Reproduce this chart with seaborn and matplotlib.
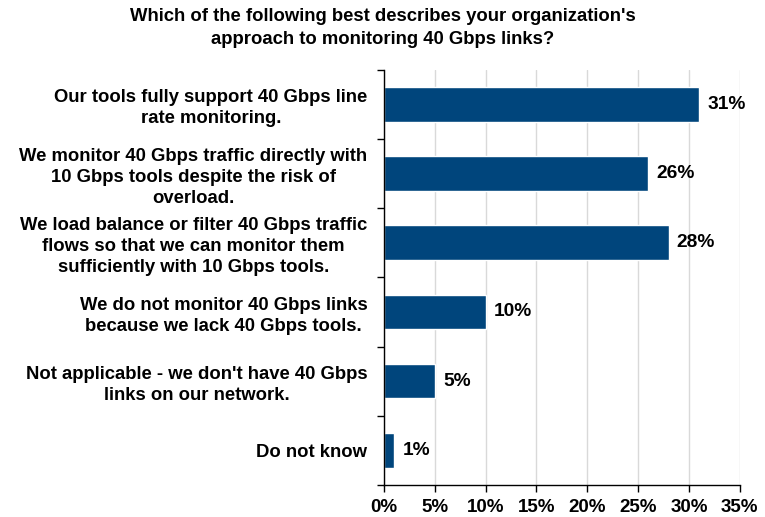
import matplotlib
matplotlib.use("Agg")
import matplotlib.pyplot as plt
import matplotlib.ticker as mticker
import pandas as pd
import seaborn as sns

# ── data ──────────────────────────────────────────────────────────────────────
answers = [
    "Our tools fully support 40 Gbps line\nrate monitoring.",
    "We monitor 40 Gbps traffic directly with\n10 Gbps tools despite the risk of\noverload.",
    "We load balance or filter 40 Gbps traffic\nflows so that we can monitor them\nsufficiently with 10 Gbps tools.",
    "We do not monitor 40 Gbps links\nbecause we lack 40 Gbps tools.",
    "Not applicable - we don't have 40 Gbps\nlinks on our network.",
    "Do not know",
]
shares = [31, 26, 28, 10, 5, 1]
xticks = [0, 5, 10, 15, 20, 25, 30, 35]

df = pd.DataFrame({"answer": answers, "share": shares})

# ── style ─────────────────────────────────────────────────────────────────────
sns.set_theme(style="white")
plt.rcParams["font.family"] = ["Liberation Sans", "DejaVu Sans"]
plt.rcParams["font.weight"] = "bold"
plt.rcParams["text.color"] = "black"
plt.rcParams["xtick.color"] = "black"
plt.rcParams["ytick.color"] = "black"

BLUE = "#00457C"

fig = plt.figure(figsize=(7.65, 5.17), dpi=100)
ax = fig.add_axes([0.502, 0.062, 0.465, 0.803])

sns.barplot(data=df, y="answer", x="share", orient="h", color=BLUE,
            saturation=1, width=0.5, ax=ax)

ax.set_xlim(0, 35)
ax.set_ylim(5.5, -0.5)
ax.set_xticks(xticks)
ax.xaxis.set_major_formatter(mticker.FuncFormatter(lambda v, _: f"{v:.0f}%"))
ax.grid(axis="x", color="#d9d9d9", lw=1)
ax.set_axisbelow(True)
ax.set_xlabel("")
ax.set_ylabel("")

for s in ["top", "right"]:
    ax.spines[s].set_visible(False)
for s in ["left", "bottom"]:
    ax.spines[s].set_color("black")
    ax.spines[s].set_linewidth(1)

# tick marks between categories on the y axis
ax.yaxis.set_minor_locator(mticker.FixedLocator([i - 0.5 for i in range(7)]))
ax.tick_params(axis="y", which="major", length=0, pad=12, labelsize=13.3,
               labelcolor="black")
ax.tick_params(axis="y", which="minor", length=5, width=1, color="black",
               direction="out", left=True)
ax.tick_params(axis="x", which="major", length=5, width=1, color="black",
               direction="out", bottom=True, labelsize=13.5, pad=5,
               labelcolor="black")
for lab in ax.get_yticklabels():
    lab.set_multialignment("center")
    lab.set_fontweight("bold")
    lab.set_linespacing(1.3)
for lab in ax.get_xticklabels():
    lab.set_fontweight("bold")

for i, v in enumerate(shares):
    ax.text(v + 0.8, i, f"{v}%", va="center", ha="left",
            fontsize=13.8, fontweight="bold", color="black")

fig.suptitle("Which of the following best describes your organization's\n"
             "approach to monitoring 40 Gbps links?",
             x=0.5, y=0.985, fontsize=13.3, fontweight="bold", color="black",
             linespacing=1.45)

fig.savefig("out.png", dpi=100)
